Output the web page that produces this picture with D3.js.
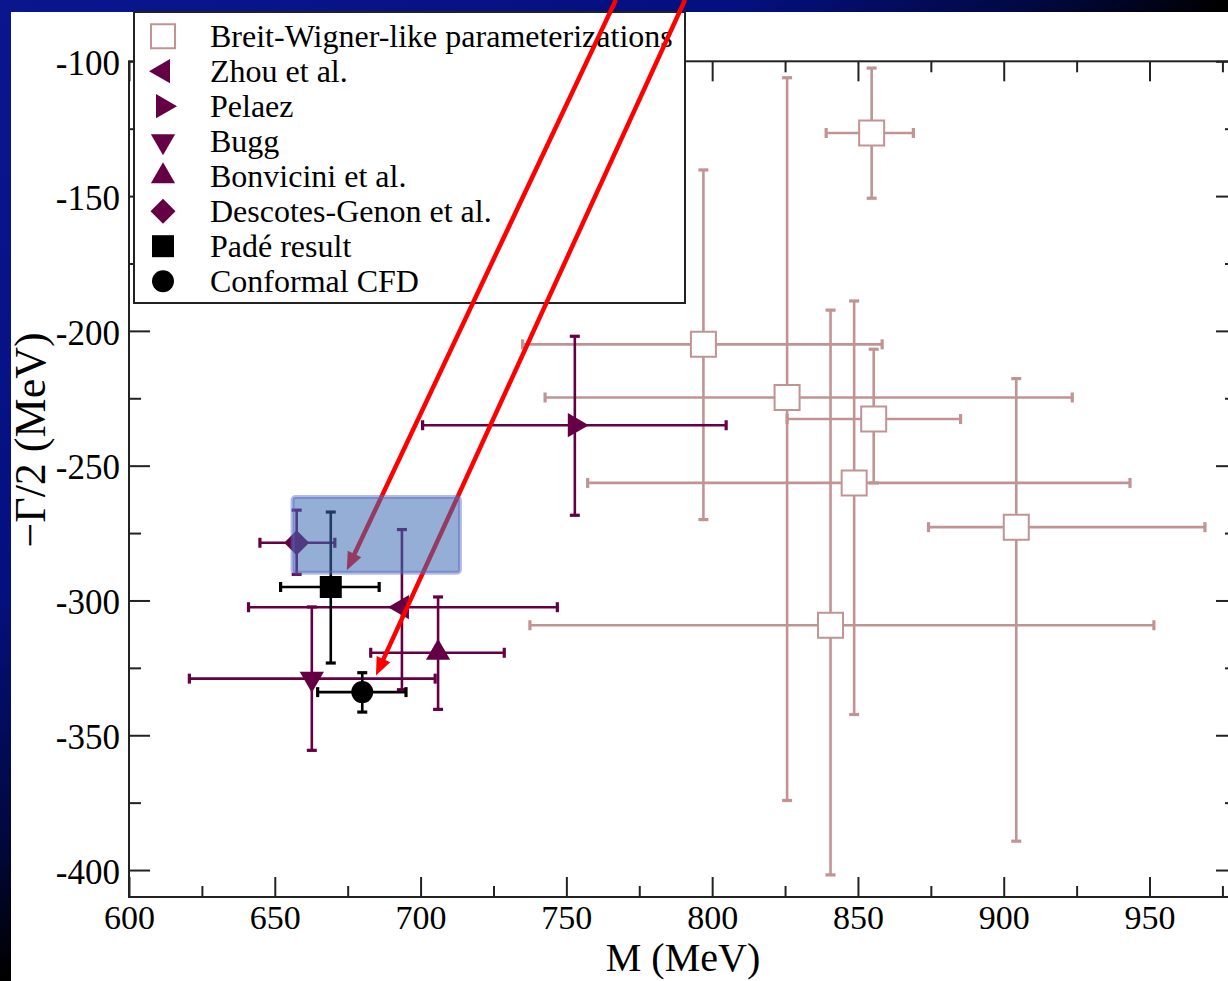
<!DOCTYPE html>
<html>
<head>
<meta charset="utf-8">
<script src="https://cdn.jsdelivr.net/npm/d3@7"></script>
<style>
body { margin: 0; background: #000; }
svg { display: block; font-family: "Liberation Serif", "Times New Roman", serif; }
</style>
</head>
<body>
<div id="container"></div>
<script>
const width = 1228;
const height = 981;

// Breit-Wigner-like parameterizations: M and -Gamma/2 (MeV), error bar ends
const bwMass    = [854.7, 797.0, 825.7, 855.4, 848.7, 904.3, 840.6];
const bwMassLo  = [839.1, 735.0, 742.7, 825.7, 757.3, 874.2, 737.5];
const bwMassHi  = [869.0, 858.3, 923.5, 885.2, 943.3, 969.0, 951.5];
const bwGamma   = [-126.6, -205.0, -224.7, -232.7, -256.4, -272.8, -309.2];
const bwGammaLo = [-150.8, -270.0, -374.2, -256.4, -342.3, -389.3, -401.8];
const bwGammaHi = [-102.5, -140.3, -106.1, -206.8, -188.9, -217.7, -192.3];

// pole determinations, one point each
const poleNames   = ["Zhou et al.", "Pelaez", "Bugg", "Bonvicini et al.", "Descotes-Genon et al.", "Padé result", "Conformal CFD"];
const poleMass    = [693.6, 752.9, 662.7, 706.0, 657.5, 669.2, 680.0];
const poleMassLo  = [641.0, 700.7, 620.7, 682.9, 644.9, 652.0, 664.7];
const poleMassHi  = [746.9, 804.8, 705.0, 728.7, 670.6, 685.8, 695.0];
const poleGamma   = [-302.5, -235.0, -329.0, -319.4, -278.6, -295.0, -334.0];
const poleGammaLo = [-333.1, -268.4, -355.6, -340.4, -290.3, -323.2, -341.4];
const poleGammaHi = [-273.7, -202.0, -302.4, -298.7, -266.5, -267.2, -326.8];

const legendLabels = ["Breit-Wigner-like parameterizations"].concat(poleNames);

// axis ticks
const xMajor = [600, 650, 700, 750, 800, 850, 900, 950];
const xMinor = [625, 675, 725, 775, 825, 875, 925, 975];
const yMajor = [-400, -350, -300, -250, -200, -150, -100];
const yMinor = [-375, -325, -275, -225, -175, -125];

// annotations (slide overlay): highlighted region and two arrows
const boxMass  = [656.1, 713.5];
const boxGamma = [-289.7, -261.6];
const arrowFromMass  = [767.0, 790.7];
const arrowFromGamma = [-77.2, -77.2];
const arrowToMass    = [674.7, 684.7];
const arrowToGamma   = [-288.8, -327.8];

// styles
const bwColor = "#c29393";
const purple = "#660044";
const symbolOf = {
  "Zhou et al.": "left", "Pelaez": "right", "Bugg": "down", "Bonvicini et al.": "up",
  "Descotes-Genon et al.": "diamond", "Padé result": "square", "Conformal CFD": "circle"
};
const colorOf = {
  "Zhou et al.": purple, "Pelaez": purple, "Bugg": purple, "Bonvicini et al.": purple,
  "Descotes-Genon et al.": purple, "Padé result": "#000", "Conformal CFD": "#000"
};

const x = d3.scaleLinear().domain([600, 980]).range([129, 1237]);
const y = d3.scaleLinear().domain([-410, -100]).range([897, 61.3]);

const svg = d3.select("#container")
  .append("svg")
  .attr("width", width)
  .attr("height", height);

// slide background
const grad = svg.append("defs").append("linearGradient")
  .attr("id", "bg")
  .attr("gradientUnits", "userSpaceOnUse")
  .attr("x1", 0).attr("y1", 0).attr("x2", 478).attr("y2", 599);
grad.append("stop").attr("offset", 0).attr("stop-color", "#0a168e");
grad.append("stop").attr("offset", 0.6).attr("stop-color", "#041080");
grad.append("stop").attr("offset", 0.85).attr("stop-color", "#020840");
grad.append("stop").attr("offset", 1).attr("stop-color", "#000000");
svg.append("rect").attr("width", width).attr("height", height).attr("fill", "url(#bg)");
svg.append("rect").attr("x", 11).attr("y", 12).attr("width", width - 11).attr("height", height - 12).attr("fill", "#fff");

// symbol path builders (r = half size in px)
function symbolPath(kind, r) {
  const p = d3.path();
  if (kind === "square") {
    p.rect(-r, -r, 2 * r, 2 * r);
  } else if (kind === "circle") {
    p.arc(0, 0, r, 0, 2 * Math.PI);
  } else if (kind === "diamond") {
    p.moveTo(0, -r); p.lineTo(r, 0); p.lineTo(0, r); p.lineTo(-r, 0); p.closePath();
  } else {
    const a0 = {up: -90, down: 90, left: 180, right: 0}[kind] * Math.PI / 180;
    for (let k = 0; k < 3; k++) {
      const a = a0 + k * 2 * Math.PI / 3;
      const px = Math.cos(a) * r, py = Math.sin(a) * r;
      if (k === 0) p.moveTo(px, py); else p.lineTo(px, py);
    }
    p.closePath();
  }
  return p.toString();
}
const symbolSize = {square: 11, circle: 11, diamond: 12.5, up: 14, down: 14, left: 14, right: 14};

// axes: ticks point inwards on all four sides
const axisStyle = g => {
  g.select(".domain").remove();
  g.selectAll(".tick line").attr("stroke", "#222").attr("stroke-width", 2);
  g.selectAll(".tick text").attr("fill", "#000").attr("font-size", 34)
    .attr("font-family", "Liberation Serif, Times New Roman, serif");
};
const plain = d => String(d);
svg.append("g").attr("transform", "translate(0,897)")
  .call(d3.axisBottom(x).tickValues(xMajor).tickSizeInner(-20).tickSizeOuter(0).tickPadding(8).tickFormat(plain))
  .call(axisStyle);
svg.append("g").attr("transform", "translate(0,897)")
  .call(d3.axisBottom(x).tickValues(xMinor).tickSizeInner(-11).tickSizeOuter(0).tickFormat(""))
  .call(axisStyle);
svg.append("g").attr("transform", "translate(0,61.3)")
  .call(d3.axisTop(x).tickValues(xMajor).tickSizeInner(-20).tickSizeOuter(0).tickFormat(""))
  .call(axisStyle);
svg.append("g").attr("transform", "translate(0,61.3)")
  .call(d3.axisTop(x).tickValues(xMinor).tickSizeInner(-11).tickSizeOuter(0).tickFormat(""))
  .call(axisStyle);
svg.append("g").attr("transform", "translate(129,0)")
  .call(d3.axisLeft(y).tickValues(yMajor).tickSizeInner(-21).tickSizeOuter(0).tickPadding(9).tickFormat(plain))
  .call(axisStyle)
  .call(g => g.selectAll(".tick text").attr("font-size", 35).attr("dy", "0.38em"));
svg.append("g").attr("transform", "translate(129,0)")
  .call(d3.axisLeft(y).tickValues(yMinor).tickSizeInner(-12).tickSizeOuter(0).tickFormat(""))
  .call(axisStyle);
svg.append("g").attr("transform", "translate(1237,0)")
  .call(d3.axisRight(y).tickValues(yMajor).tickSizeInner(-21).tickSizeOuter(0).tickFormat(""))
  .call(axisStyle);
svg.append("g").attr("transform", "translate(1237,0)")
  .call(d3.axisRight(y).tickValues(yMinor).tickSizeInner(-12).tickSizeOuter(0).tickFormat(""))
  .call(axisStyle);

// frame
svg.append("rect")
  .attr("x", x(600)).attr("y", y(-100))
  .attr("width", x(980) - x(600)).attr("height", y(-410) - y(-100))
  .attr("fill", "none").attr("stroke", "#222").attr("stroke-width", 2);

// axis titles
svg.append("text")
  .attr("x", 683).attr("y", 971)
  .attr("text-anchor", "middle").attr("font-size", 40)
  .text("M (MeV)");
svg.append("text")
  .attr("transform", "translate(45,440) rotate(-90)")
  .attr("text-anchor", "middle").attr("font-size", 44)
  .text("\u2212\u0393/2 (MeV)");

// error bars with caps
function errorBars(g, d, color) {
  const cap = 5;
  const s = g.append("g").attr("stroke", color).attr("stroke-width", 2.6).attr("fill", "none");
  s.append("line").attr("x1", x(d.mLo)).attr("x2", x(d.mHi)).attr("y1", y(d.g)).attr("y2", y(d.g));
  s.append("line").attr("x1", x(d.m)).attr("x2", x(d.m)).attr("y1", y(d.gLo)).attr("y2", y(d.gHi));
  const caps = s.append("g").attr("stroke-width", 3.2);
  [d.mLo, d.mHi].forEach(v => caps.append("line")
    .attr("x1", x(v)).attr("x2", x(v)).attr("y1", y(d.g) - cap).attr("y2", y(d.g) + cap));
  [d.gLo, d.gHi].forEach(v => caps.append("line")
    .attr("x1", x(d.m) - cap).attr("x2", x(d.m) + cap).attr("y1", y(v)).attr("y2", y(v)));
}

const bwData = bwMass.map((m, i) => ({
  m: m, mLo: bwMassLo[i], mHi: bwMassHi[i], g: bwGamma[i], gLo: bwGammaLo[i], gHi: bwGammaHi[i]
}));
const bwLayer = svg.append("g");
bwData.forEach(d => {
  errorBars(bwLayer, d, bwColor);
  bwLayer.append("path")
    .attr("transform", `translate(${x(d.m)},${y(d.g)})`)
    .attr("d", symbolPath("square", 12.5))
    .attr("fill", "#fff").attr("stroke", bwColor).attr("stroke-width", 2);
});

const poleData = poleNames.map((name, i) => ({
  name: name, m: poleMass[i], mLo: poleMassLo[i], mHi: poleMassHi[i],
  g: poleGamma[i], gLo: poleGammaLo[i], gHi: poleGammaHi[i]
}));
const poleLayer = svg.append("g");
poleData.forEach(d => {
  const kind = symbolOf[d.name];
  errorBars(poleLayer, d, colorOf[d.name]);
  poleLayer.append("path")
    .attr("transform", `translate(${x(d.m)},${y(d.g)})`)
    .attr("d", symbolPath(kind, symbolSize[kind]))
    .attr("fill", colorOf[d.name]);
});

// legend
const legend = svg.append("g");
legend.append("rect")
  .attr("x", 134).attr("y", 12).attr("width", 551).attr("height", 291)
  .attr("fill", "#fff").attr("stroke", "#222").attr("stroke-width", 2);
legendLabels.forEach((label, i) => {
  const base = 46.7 + i * 35;
  const kind = i === 0 ? "square" : symbolOf[label];
  const sym = legend.append("path")
    .attr("transform", `translate(163,${base - 10.5})`)
    .attr("d", symbolPath(kind, i === 0 ? 12 : symbolSize[kind]));
  if (i === 0) sym.attr("fill", "#fff").attr("stroke", bwColor).attr("stroke-width", 2);
  else sym.attr("fill", colorOf[label]);
  legend.append("text")
    .attr("x", 210).attr("y", base)
    .attr("font-size", 32)
    .text(label);
});

// red arrows (under the highlight box)
const arrows = svg.append("g");
arrowFromMass.forEach((m0, i) => {
  const x0 = x(m0), y0 = y(arrowFromGamma[i]);
  const x1 = x(arrowToMass[i]), y1 = y(arrowToGamma[i]);
  const len = Math.hypot(x1 - x0, y1 - y0);
  const ux = (x1 - x0) / len, uy = (y1 - y0) / len;
  const head = 18, half = 7.5;
  const bx = x1 - ux * head, by = y1 - uy * head;
  arrows.append("line")
    .attr("x1", x0).attr("y1", y0).attr("x2", bx + ux * 2).attr("y2", by + uy * 2)
    .attr("stroke", "#ff0000").attr("stroke-width", 4.5);
  arrows.append("path")
    .attr("d", `M${x1},${y1}L${bx - uy * half},${by + ux * half}L${bx + uy * half},${by - ux * half}Z`)
    .attr("fill", "#ff0000");
});

// highlight box
svg.append("rect")
  .attr("x", x(boxMass[0])).attr("y", y(boxGamma[1]))
  .attr("width", x(boxMass[1]) - x(boxMass[0]))
  .attr("height", y(boxGamma[0]) - y(boxGamma[1]))
  .attr("rx", 3)
  .attr("fill", "#3c6cb4").attr("fill-opacity", 0.55)
  .attr("stroke", "#5868c8").attr("stroke-opacity", 0.45).attr("stroke-width", 4);
</script>
</body>
</html>
